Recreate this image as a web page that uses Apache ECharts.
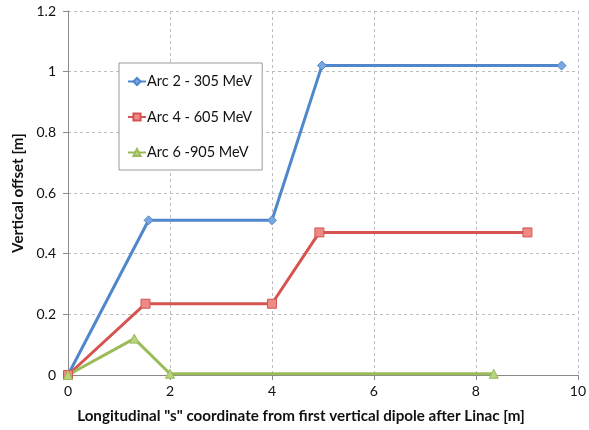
<!DOCTYPE html>
<html>
<head>
<meta charset="utf-8">
<script src="https://cdn.jsdelivr.net/npm/echarts@6/dist/echarts.min.js"></script>
<style>
  html, body { margin: 0; padding: 0; background: #fff; }
  #main { width: 589px; height: 430px; }
</style>
</head>
<body>
<div id="main"></div>
<script>
  // data: [s, offset]
  var arc2 = [[0, 0], [1.58, 0.51], [4.0, 0.51], [4.98, 1.02], [9.68, 1.02]];
  var arc4 = [[0, 0], [1.52, 0.235], [4.0, 0.235], [4.93, 0.47], [9.01, 0.47]];
  var arc6 = [[0, 0], [1.3, 0.12], [2.0, 0.004], [8.35, 0.004]];
  var names = ['Arc 2 - 305 MeV', 'Arc 4 - 605 MeV', 'Arc 6 -905 MeV'];

  var font = 'Lato, "Open Sans", sans-serif';
  var chart = echarts.init(document.getElementById('main'));

  function line(name, data, color, fill, symbol, size) {
    return {
      name: name,
      type: 'line',
      data: data,
      symbol: symbol,
      symbolSize: size,
      lineStyle: { color: color, width: 3 },
      itemStyle: { color: fill, borderColor: color, borderWidth: 1 },
      emphasis: { disabled: true }
    };
  }

  chart.setOption({
    animation: false,
    textStyle: { fontFamily: font },
    grid: { left: 68, right: 7, top: 11, bottom: 55 },
    legend: {
      orient: 'vertical',
      left: 119,
      top: 63,
      data: names,
      itemWidth: 18,
      itemHeight: 9,
      itemGap: 20.5,
      padding: [11, 10, 10, 8],
      borderColor: '#9a9a9a',
      borderWidth: 1,
      backgroundColor: '#fff',
      textStyle: { fontFamily: font, fontSize: 14.5, color: '#111', padding: [0, 0, 0, -4] }
    },
    xAxis: {
      type: 'value',
      min: 0, max: 10, interval: 2,
      name: 'Longitudinal "s" coordinate from first vertical dipole after Linac [m]',
      nameLocation: 'middle',
      nameGap: 34,
      nameTextStyle: { fontFamily: font, fontSize: 15.2, fontWeight: 'bold', color: '#111', padding: [0, 44, 0, 0] },
      axisLine: { show: true, lineStyle: { color: '#8a8a8a' } },
      axisTick: { show: true, length: 5, lineStyle: { color: '#8a8a8a' } },
      axisLabel: { fontSize: 14, color: '#111', margin: 9 },
      splitLine: { show: true, lineStyle: { color: '#bdbdbd', type: [3, 3] } }
    },
    yAxis: {
      type: 'value',
      min: 0, max: 1.2, interval: 0.2,
      name: 'Vertical offset [m]',
      nameLocation: 'middle',
      nameGap: 42,
      nameTextStyle: { fontFamily: font, fontSize: 15.2, fontWeight: 'bold', color: '#111' },
      axisLine: { show: true, lineStyle: { color: '#8a8a8a' } },
      axisTick: { show: true, length: 5, lineStyle: { color: '#8a8a8a' } },
      axisLabel: { fontSize: 14, color: '#111', margin: 12 },
      splitLine: { show: true, lineStyle: { color: '#bdbdbd', type: [3, 3] } }
    },
    series: [
      line(names[0], arc2, '#4f87cc', '#7aa7de', 'diamond', 9),
      line(names[1], arc4, '#d55450', '#ee8a86', 'rect', 9),
      line(names[2], arc6, '#9bbb59', '#b9d47e', 'triangle', 9)
    ]
  });
</script>
</body>
</html>
